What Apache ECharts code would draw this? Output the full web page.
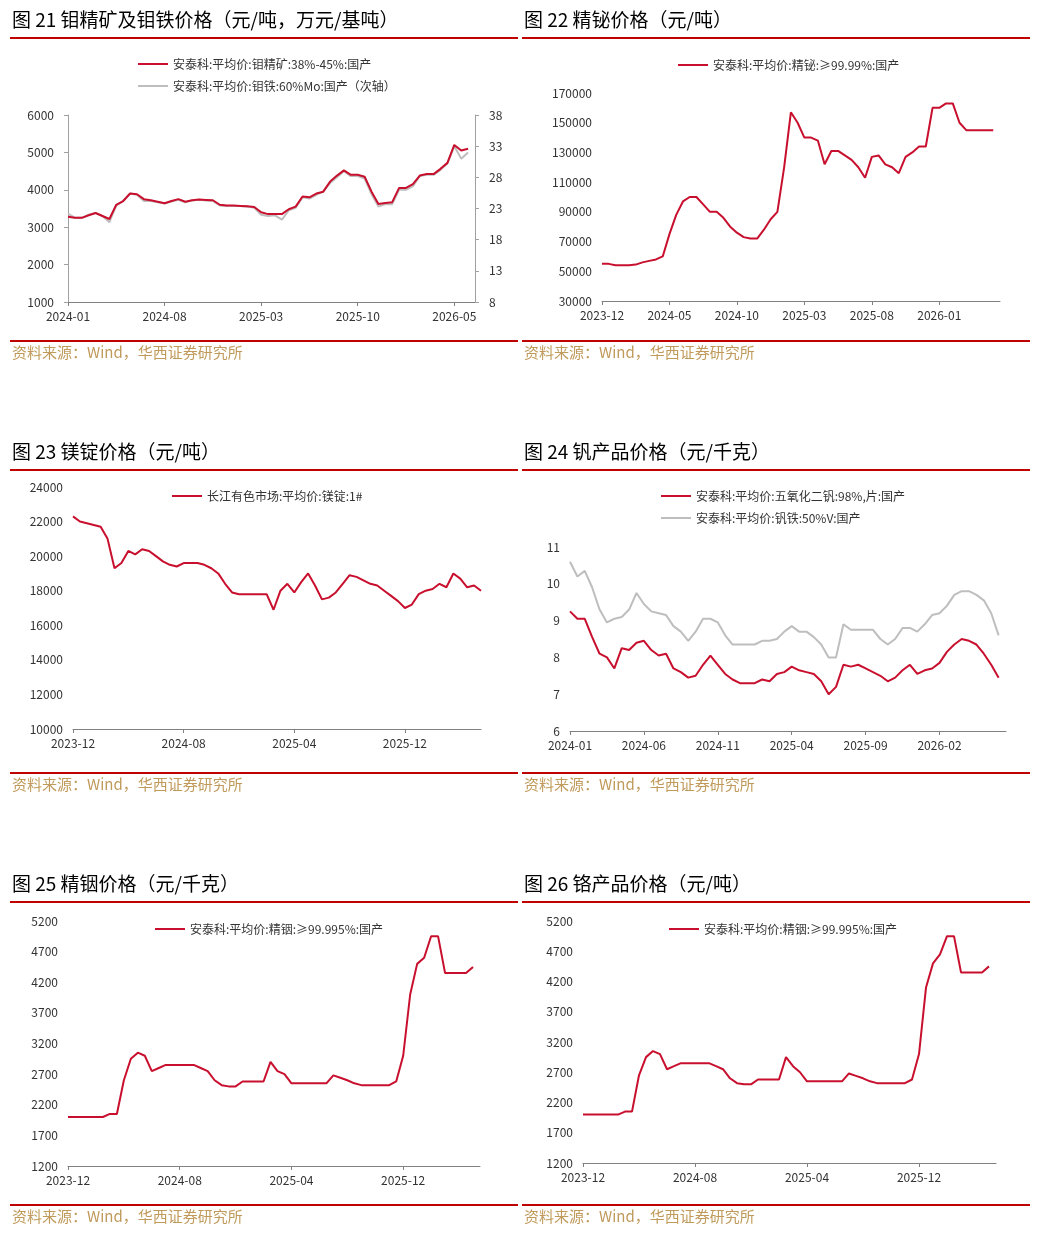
<!DOCTYPE html>
<html>
<head>
<meta charset="utf-8">
<script src="https://cdn.jsdelivr.net/npm/echarts@6/dist/echarts.min.js"></script>
<style>html,body{margin:0;padding:0;background:#fff}#main{width:1038px;height:1236px}</style>
</head>
<body>
<div id="main"></div>
<script>
// 半月数据，各图从起始月份开始
var moConc = [3280,3250,3250,3320,3380,3300,3220,3600,3700,3900,3880,3750,3720,3680,3640,3700,3750,3680,3720,3740,3730,3720,3600,3580,3580,3570,3560,3540,3400,3350,3350,3350,3480,3550,3820,3800,3900,3950,4220,4380,4520,4400,4400,4350,3950,3620,3650,3670,4050,4050,4150,4380,4420,4420,4560,4720,5200,5050,5100];
var moFe = [22.2,21.5,21.5,22.0,22.3,21.8,20.8,23.5,24.2,25.4,25.2,24.2,24.2,24.0,23.8,24.1,24.4,24.0,24.3,24.4,24.3,24.2,23.5,23.4,23.4,23.4,23.3,23.1,22.0,21.8,21.9,21.2,22.7,23.1,24.8,24.6,25.2,25.7,27.1,28.0,29.0,28.2,28.2,27.8,25.3,23.3,23.7,23.7,26.0,26.0,26.6,28.2,28.4,28.4,29.2,30.2,33.0,31.0,32.0];
var bismuth = [55000,55000,54000,54000,54000,54500,56000,57000,58000,60000,75000,88000,97000,100000,100000,95000,90000,90000,86000,80000,76000,73000,72000,72000,78000,85000,90000,120000,157000,150000,140000,140000,138000,122000,131000,131000,128000,125000,120000,113000,127000,128000,122000,120000,116000,127000,130000,134000,134000,160000,160000,163000,163000,150000,145000,145000,145000,145000,145000];
var magnesium = [22300,22000,21900,21800,21700,21000,19300,19600,20300,20100,20400,20300,20000,19700,19500,19400,19600,19600,19600,19500,19300,19000,18400,17900,17800,17800,17800,17800,17800,16900,18000,18400,17900,18500,19000,18300,17500,17600,17900,18400,18900,18800,18600,18400,18300,18000,17700,17400,17000,17200,17800,18000,18100,18400,18200,19000,18700,18200,18300,18000];
var v2o5 = [9.25,9.05,9.05,8.55,8.1,8.0,7.7,8.25,8.2,8.4,8.45,8.2,8.05,8.1,7.7,7.6,7.45,7.5,7.8,8.05,7.8,7.55,7.4,7.3,7.3,7.3,7.4,7.35,7.55,7.6,7.75,7.65,7.6,7.55,7.35,7.0,7.2,7.8,7.75,7.8,7.7,7.6,7.5,7.35,7.45,7.65,7.8,7.55,7.65,7.7,7.85,8.15,8.35,8.5,8.45,8.35,8.1,7.8,7.45];
var feV = [10.6,10.2,10.35,9.9,9.3,8.95,9.05,9.1,9.3,9.75,9.45,9.25,9.2,9.15,8.85,8.7,8.45,8.7,9.05,9.05,8.95,8.6,8.35,8.35,8.35,8.35,8.45,8.45,8.5,8.7,8.85,8.7,8.7,8.55,8.35,8.0,8.0,8.9,8.75,8.75,8.75,8.75,8.5,8.35,8.5,8.8,8.8,8.7,8.9,9.15,9.2,9.4,9.7,9.8,9.8,9.7,9.55,9.2,8.6];
var indium = [2000,2000,2000,2000,2000,2000,2050,2050,2600,2950,3050,3000,2750,2800,2850,2850,2850,2850,2850,2800,2750,2600,2520,2500,2500,2580,2580,2580,2580,2900,2750,2700,2550,2550,2550,2550,2550,2550,2680,2640,2600,2550,2520,2520,2520,2520,2520,2580,3000,4000,4500,4600,4950,4950,4350,4350,4350,4350,4450];
var indium2 = [2000,2000,2000,2000,2000,2000,2050,2050,2650,2950,3050,3000,2750,2800,2850,2850,2850,2850,2850,2800,2750,2600,2520,2500,2500,2580,2580,2580,2580,2950,2800,2700,2550,2550,2550,2550,2550,2550,2680,2640,2600,2550,2520,2520,2520,2520,2520,2580,3000,4100,4500,4650,4950,4950,4350,4350,4350,4350,4450];

function halfMonths(y, m, n){
	var out = [];
	for (var i = 0; i < n; i++){
		var mm = m - 1 + Math.floor(i / 2);
		var yy = y + Math.floor(mm / 12);
		var s = yy + '-' + ('0' + (mm % 12 + 1)).slice(-2);
		out.push(i % 2 === 0 ? s : s + ' ');
	}
	return out;
}

var RED = '#C8102E', GRAY = '#BEBEBE';
var FONT = 'Noto Sans CJK SC';
var grids = [
	{left:68, width:407, top:115, height:187},
	{left:602, width:398, top:93, height:208},
	{left:73, width:408, top:487, height:242},
	{left:570, width:436, top:547, height:184},
	{left:68, width:412, top:921, height:245},
	{left:583, width:413, top:921, height:242}
];
var cats = [
	halfMonths(2024,1,60), halfMonths(2023,12,60), halfMonths(2023,12,60),
	halfMonths(2024,1,60), halfMonths(2023,12,60), halfMonths(2023,12,60)
];
var every = [14, 10, 16, 10, 16, 16];

var xAxes = [], yAxes = [];
for (var g = 0; g < 6; g++){
	(function(g){
		xAxes.push({
			type:'category', gridIndex:g, data:cats[g], boundaryGap:false,
			axisLine:{lineStyle:{color:'#808080'}},
			axisTick:{interval:function(i){return i % every[g] === 0;}, length:4, lineStyle:{color:'#808080'}},
			axisLabel:{interval:function(i){return i % every[g] === 0;}, color:'#333', fontSize:12, fontFamily:FONT}
		});
	})(g);
}
function yAx(g, min, max, step, showLine){
	return {type:'value', gridIndex:g, min:min, max:max, interval:step, splitLine:{show:false},
		axisLine:{show:showLine, lineStyle:{color:'#A0A0A0'}}, axisTick:{show:showLine, length:4, lineStyle:{color:'#A0A0A0'}},
		axisLabel:{color:'#333', fontSize:12, fontFamily:FONT, margin:showLine ? 14 : 10,
			formatter:function(v){return String(v);}}};
}
yAxes.push(yAx(0,1000,6000,1000,true));
var r = yAx(0,8,38,5,true); r.position = 'right'; yAxes.push(r);
yAxes.push(yAx(1,30000,170000,20000,false));
yAxes.push(yAx(2,10000,24000,2000,false));
yAxes.push(yAx(3,6,11,1,false));
yAxes.push(yAx(4,1200,5200,500,false));
yAxes.push(yAx(5,1200,5200,500,false));

function line(name, x, y, data, color, z){
	return {name:name, type:'line', xAxisIndex:x, yAxisIndex:y, data:data, symbol:'none',
		lineStyle:{color:color, width:2}, itemStyle:{color:color}, z:z || 2};
}
var n1a = '安泰科:平均价:钼精矿:38%-45%:国产', n1b = '安泰科:平均价:钼铁:60%Mo:国产（次轴）';
var n2 = '安泰科:平均价:精铋:≥99.99%:国产';
var n3 = '长江有色市场:平均价:镁锭:1#';
var n4a = '安泰科:平均价:五氧化二钒:98%,片:国产', n4b = '安泰科:平均价:钒铁:50%V:国产';
var n5 = '安泰科:平均价:精铟:≥99.995%:国产';
var series = [
	line(n1b,0,1,moFe,GRAY,1), line(n1a,0,0,moConc,RED,2),
	line(n2,1,2,bismuth,RED),
	line(n3,2,3,magnesium,RED),
	line(n4b,3,4,feV,GRAY,1), line(n4a,3,4,v2o5,RED,2),
	line(n5,4,5,indium,RED),
	line(n5,5,6,indium2,RED)
];
function leg(names, left, top, vertical){
	return {data:names, left:left, top:top, orient:vertical ? 'vertical' : 'horizontal', itemGap:10,
		icon:'rect', itemWidth:30, itemHeight:2, selectedMode:false,
		textStyle:{color:'#333', fontSize:12, fontFamily:FONT}};
}
var legends = [
	leg([n1a, n1b], 133, 53, true),
	leg([n2], 673, 54), leg([n3], 167, 485), leg([n4a, n4b], 656, 485, true),
	leg([n5], 150, 918), leg([n5], 664, 918)
];

var titles = ['图 21 钼精矿及钼铁价格（元/吨，万元/基吨）','图 22 精铋价格（元/吨）','图 23 镁锭价格（元/吨）','图 24 钒产品价格（元/千克）','图 25 精铟价格（元/千克）','图 26 铬产品价格（元/吨）'];
var graphics = [];
for (var k = 0; k < 6; k++){
	var col = k % 2, row = Math.floor(k / 2);
	var x0 = col ? 522 : 10, w = 508, y0 = row * 432;
	graphics.push({type:'text', left:x0 + 2, top:y0 + 10, style:{text:titles[k], fill:'#000', font:'19px "' + FONT + '"'}});
	graphics.push({type:'rect', shape:{x:x0, y:y0 + 37, width:w, height:2}, style:{fill:'#C00000'}});
	graphics.push({type:'rect', shape:{x:x0, y:y0 + 340, width:w, height:2}, style:{fill:'#C00000'}});
	graphics.push({type:'text', left:x0 + 2, top:y0 + 345, style:{text:'资料来源：Wind，华西证券研究所', fill:'#C09A5B', font:'15px "' + FONT + '"'}});
}

var myChart = echarts.init(document.getElementById('main'));
myChart.setOption({
	animation:false,
	backgroundColor:'#fff',
	grid:grids, xAxis:xAxes, yAxis:yAxes, legend:legends, series:series, graphic:graphics
});
</script>
</body>
</html>
